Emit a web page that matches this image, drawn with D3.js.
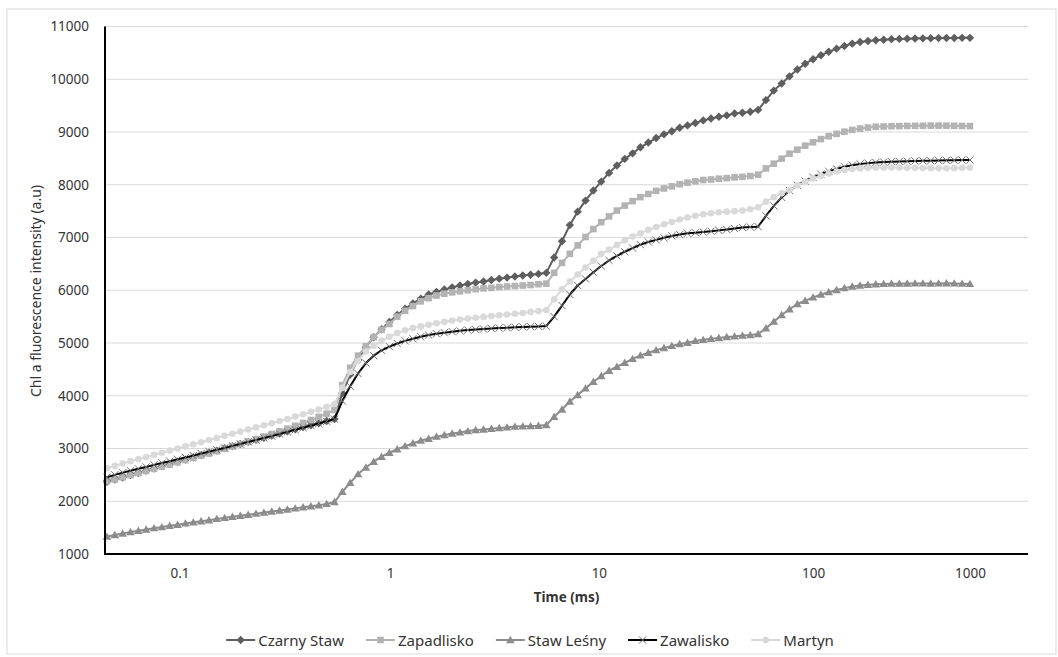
<!DOCTYPE html>
<html><head><meta charset="utf-8">
<script src="https://cdn.jsdelivr.net/npm/d3@7"></script>
<style>body{margin:0;background:#fff;} svg{display:block;font-family:"Noto Sans",sans-serif;}</style>
</head><body><svg id="c" width="1058" height="657"></svg>
<script>
// ---- DATA ----
const seriesNames = ["Czarny Staw", "Zapadlisko", "Staw Leśny", "Zawalisko", "Martyn"];
const xTickLabels = ["0.1", "1", "10", "100", "1000"];
const xTickIndex = [9.25, 36.1, 62.7, 90, 110];
const yTicks = [1000, 2000, 3000, 4000, 5000, 6000, 7000, 8000, 9000, 10000, 11000];

const czarnyStaw = [
 2370,2410,2450,2495,2535,2580,2620,2665,2705,2750,2790,2835,2875,2920,2960,3005,3045,3085,3125,3165,3205,3245,3285,3325,3365,3405,3440,3480,3520,3560,
 4050,4400,4680,4920,5110,5260,5400,5530,5650,5750,5840,5920,5970,6015,6055,6090,6120,6145,6165,6195,6220,6240,6260,6280,6295,6310,6330,
 6620,6930,7235,7490,7700,7890,8060,8225,8365,8490,8595,8710,8800,8885,8955,9015,9080,9125,9170,9220,9255,9290,9315,9350,9365,9385,9420,
 9605,9785,9920,10055,10185,10295,10380,10455,10520,10580,10630,10675,10705,10725,10740,10750,10760,10765,10770,10772,10775,10778,10780,10782,10783,10785,10785];
const zapadlisko = [
 2380,2415,2455,2495,2535,2575,2615,2655,2695,2740,2780,2820,2865,2905,2950,2995,3040,3085,3130,3175,3225,3275,3325,3375,3430,3485,3540,3600,3660,3730,
 4200,4530,4760,4940,5110,5250,5360,5500,5610,5700,5790,5850,5900,5935,5960,5980,6000,6020,6035,6045,6060,6070,6080,6090,6100,6115,6125,
 6330,6520,6690,6850,7010,7160,7290,7400,7510,7605,7690,7765,7825,7885,7930,7970,8010,8040,8065,8090,8100,8115,8125,8140,8150,8165,8190,
 8310,8400,8495,8590,8665,8740,8805,8865,8920,8965,9005,9040,9065,9085,9100,9105,9110,9112,9115,9117,9118,9120,9120,9120,9118,9115,9112];
const stawLesny = [
 1330,1360,1390,1415,1440,1465,1490,1510,1535,1555,1580,1600,1620,1640,1665,1685,1705,1725,1745,1765,1785,1805,1825,1845,1865,1885,1905,1925,1950,1985,
 2180,2350,2515,2640,2750,2845,2920,2985,3045,3100,3150,3185,3225,3255,3285,3305,3330,3350,3360,3375,3390,3400,3415,3420,3425,3430,3445,
 3600,3740,3890,4015,4140,4265,4375,4475,4550,4625,4700,4765,4815,4865,4905,4945,4980,5005,5040,5060,5080,5095,5115,5125,5140,5150,5170,
 5280,5405,5530,5640,5740,5800,5865,5920,5965,6005,6040,6070,6090,6105,6115,6120,6125,6125,6128,6130,6130,6128,6130,6132,6130,6125,6120];
const zawalisko = [
 2455,2500,2540,2580,2615,2650,2690,2725,2760,2795,2830,2865,2905,2940,2975,3010,3050,3085,3125,3160,3200,3235,3275,3315,3355,3395,3435,3475,3515,3555,
 3900,4180,4420,4620,4760,4860,4930,4990,5040,5080,5120,5150,5175,5195,5215,5230,5245,5255,5265,5275,5285,5290,5300,5305,5310,5315,5320,
 5500,5710,5920,6090,6215,6340,6460,6565,6650,6730,6800,6865,6915,6955,6995,7030,7055,7080,7090,7105,7120,7135,7150,7170,7190,7200,7205,
 7410,7600,7760,7890,7990,8070,8140,8200,8255,8300,8340,8370,8395,8410,8422,8430,8438,8442,8446,8450,8453,8456,8460,8463,8466,8468,8470];
const martyn = [
 2625,2670,2715,2760,2800,2840,2880,2920,2960,3000,3040,3080,3120,3160,3200,3240,3280,3320,3360,3400,3440,3480,3520,3560,3605,3650,3695,3740,3790,3845,
 4150,4450,4660,4840,4950,5040,5120,5190,5240,5285,5315,5345,5375,5400,5425,5445,5465,5480,5495,5510,5525,5540,5555,5570,5590,5605,5625,
 5830,6020,6165,6300,6430,6560,6690,6770,6860,6950,7020,7080,7145,7200,7250,7295,7340,7380,7410,7440,7460,7480,7490,7500,7510,7535,7575,
 7680,7765,7840,7900,7985,8060,8120,8170,8215,8250,8280,8300,8310,8320,8325,8325,8325,8325,8322,8320,8318,8315,8312,8312,8315,8320,8325];

const seriesValues = [czarnyStaw, zapadlisko, stawLesny, zawalisko, martyn];
const lineColors = ["#5e5e5e", "#b3b3b3", "#8c8c8c", "#000000", "#d9d9d9"];
const markerColors = ["#5e5e5e", "#b3b3b3", "#8c8c8c", "#6e6e6e", "#d9d9d9"];
const markerTypes = ["diamond", "square", "triangle", "x", "circle"];

// ---- LAYOUT ----
const svg = d3.select("#c");
const L = 105, R = 1028, T = 26.5, B = 554;
const textColor = "#333333";
const x = d3.scaleLinear().domain([-0.25, 117.4]).range([L, R]);
const y = d3.scaleLinear().domain([1000, 11000]).range([B, T]);

svg.append("rect").attr("x", 7).attr("y", 9).attr("width", 1049).attr("height", 645)
  .attr("fill", "#fff").attr("stroke", "#d9d9d9").attr("stroke-width", 1);

// gridlines
svg.append("g").selectAll("line").data(yTicks.slice(1)).join("line")
  .attr("x1", L).attr("x2", R).attr("y1", d => y(d)).attr("y2", d => y(d))
  .attr("stroke", "#d9d9d9").attr("stroke-width", 1);

function markerPath(type) {
  switch (type) {
    case "diamond": return "M0,-4.2L4.2,0L0,4.2L-4.2,0Z";
    case "square": return "M-3.3,-3.3H3.3V3.3H-3.3Z";
    case "triangle": return "M0,-4.2L4.3,3.2H-4.3Z";
    case "circle": return d3.symbol().type(d3.symbolCircle).size(34)();
    case "x": return "M-3.6,-3.6L3.6,3.6M-3.6,3.6L3.6,-3.6";
  }
}

const line = d3.line().x((d, i) => x(i)).y(d => y(d));

seriesValues.forEach((vals, s) => {
  const g = svg.append("g");
  g.append("path").datum(vals).attr("d", line).attr("fill", "none")
    .attr("stroke", lineColors[s]).attr("stroke-width", 2).attr("stroke-linejoin", "round");
  const isX = markerTypes[s] === "x";
  g.selectAll("path.m").data(vals).join("path").attr("class", "m")
    .attr("transform", (d, i) => `translate(${x(i)},${y(d)})`)
    .attr("d", markerPath(markerTypes[s]))
    .attr("fill", isX ? "none" : markerColors[s])
    .attr("stroke", isX ? markerColors[s] : "none")
    .attr("stroke-width", isX ? 1 : 0);
});

// axes
const yAxis = d3.axisLeft(y).tickValues(yTicks).tickSize(0).tickPadding(16).tickFormat(d3.format("d"));
const gy = svg.append("g").attr("transform", `translate(${L},0)`).call(yAxis);
gy.select(".domain").remove();
gy.selectAll("text").attr("font-size", 13.5).attr("fill", textColor).attr("font-family", "Noto Sans");

const xAxis = d3.axisBottom(x).tickValues(xTickIndex).tickSize(0).tickPadding(14)
  .tickFormat((d, i) => xTickLabels[i]);
const gx = svg.append("g").attr("transform", `translate(0,${B})`).call(xAxis);
gx.select(".domain").remove();
gx.selectAll("text").attr("font-size", 13.5).attr("fill", textColor).attr("font-family", "Noto Sans");

svg.append("line").attr("x1", L).attr("x2", L).attr("y1", T).attr("y2", B + 1)
  .attr("stroke", "#000").attr("stroke-width", 2);
svg.append("line").attr("x1", L - 1).attr("x2", R).attr("y1", B).attr("y2", B)
  .attr("stroke", "#000").attr("stroke-width", 2);

// titles
svg.append("text").attr("x", (L + R) / 2).attr("y", 602).attr("text-anchor", "middle")
  .attr("font-size", 13.5).attr("font-weight", "bold").attr("fill", textColor).text("Time (ms)");
svg.append("text").attr("transform", "translate(41,291) rotate(-90)").attr("text-anchor", "middle")
  .attr("font-size", 14).attr("fill", textColor).text("Chl a fluorescence intensity (a.u)");

// legend
const lg = svg.append("g");
let cx = 0;
seriesNames.forEach((name, s) => {
  const g = lg.append("g");
  g.append("line").attr("x1", 0).attr("x2", 29).attr("y1", 0).attr("y2", 0)
    .attr("stroke", lineColors[s]).attr("stroke-width", 2);
  const isX = markerTypes[s] === "x";
  g.append("path").attr("transform", "translate(14.5,0)").attr("d", markerPath(markerTypes[s]))
    .attr("fill", isX ? "none" : markerColors[s]).attr("stroke", isX ? markerColors[s] : "none")
    .attr("stroke-width", isX ? 1 : 0);
  const t = g.append("text").attr("x", 32).attr("y", 5.5).attr("font-size", 15).attr("fill", textColor).text(name);
  const w = 32 + t.node().getComputedTextLength();
  g.attr("transform", `translate(${cx},640)`);
  cx += w + 22;
});
const total = cx - 22;
lg.attr("transform", `translate(${530 - total / 2},0)`);
</script></body></html>
